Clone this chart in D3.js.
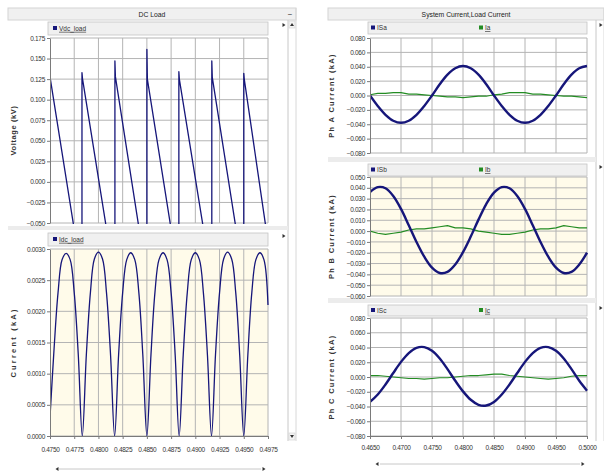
<!DOCTYPE html>
<html>
<head>
<meta charset="utf-8">
<script src="https://cdn.jsdelivr.net/npm/d3@7/dist/d3.min.js"></script>
<style>
	body { margin: 0; background: #fff; }
	svg { display: block; font-family: "Liberation Sans", Arial, sans-serif; }
	.axis text { font-size: 6.5px; fill: #333; letter-spacing: -0.3px; }
	.axis path, .axis line { stroke: #7a7a7a; }
</style>
</head>
<body>
<div id="chart"></div>
<script>
// ---- DC load (left) ----
var dcTicksX = [0.4750, 0.4775, 0.4800, 0.4825, 0.4850, 0.4875, 0.4900, 0.4925, 0.4950, 0.4975];
var vdcTicks = [-0.050, -0.025, 0.000, 0.025, 0.050, 0.075, 0.100, 0.125, 0.150, 0.175];
var idcTicks = [0.0000, 0.0005, 0.0010, 0.0015, 0.0020, 0.0025, 0.0030];

var vdcTime = [0.4750, 0.47505, 0.4783, 0.4783, 0.47835, 0.4817, 0.4817, 0.48175, 0.4850, 0.4850, 0.48505,
	0.4883, 0.4883, 0.48835, 0.4917, 0.4917, 0.49175, 0.4950, 0.4950, 0.49505, 0.4975];
var vdcLoad = [0.127, 0.124, -0.117, 0.133, 0.126, -0.121, 0.147, 0.128, -0.118, 0.161, 0.125,
	-0.117, 0.134, 0.125, -0.120, 0.147, 0.127, -0.117, 0.132, 0.125, -0.073];

var idcTime = [0.47500, 0.47542, 0.47583, 0.47625, 0.47667, 0.47708, 0.47750, 0.47792,
	0.47833, 0.47875, 0.47917, 0.47958, 0.48000, 0.48042, 0.48083, 0.48125,
	0.48167, 0.48208, 0.48250, 0.48292, 0.48333, 0.48375, 0.48417, 0.48458,
	0.48500, 0.48542, 0.48583, 0.48625, 0.48667, 0.48708, 0.48750, 0.48792,
	0.48833, 0.48875, 0.48917, 0.48958, 0.49000, 0.49042, 0.49083, 0.49125,
	0.49167, 0.49208, 0.49250, 0.49292, 0.49333, 0.49375, 0.49417, 0.49458,
	0.49500, 0.49542, 0.49583, 0.49625, 0.49667, 0.49708, 0.49750];
var idcLoad = [0.0003, 0.0014, 0.0023, 0.00283, 0.00293, 0.00283, 0.0023, 0.0013,
	0.0000, 0.0013, 0.0023, 0.00284, 0.00295, 0.00284, 0.0023, 0.0013,
	0.0000, 0.0013, 0.0023, 0.00283, 0.00294, 0.00283, 0.0023, 0.0013,
	0.0000, 0.0013, 0.0023, 0.00283, 0.00294, 0.00283, 0.0023, 0.0013,
	0.0000, 0.0013, 0.0023, 0.00283, 0.00294, 0.00283, 0.0023, 0.0013,
	0.0000, 0.0013, 0.0023, 0.00284, 0.00295, 0.00284, 0.0023, 0.0013,
	0.0000, 0.0013, 0.0023, 0.00283, 0.00294, 0.00283, 0.0021];

// ---- System current / load current (right) ----
var acTicksX = [0.4650, 0.4700, 0.4750, 0.4800, 0.4850, 0.4900, 0.4950, 0.5000];
var acTicks80 = [-0.080, -0.060, -0.040, -0.020, 0.000, 0.020, 0.040, 0.060, 0.080];
var acTicksB = [-0.060, -0.050, -0.040, -0.030, -0.020, -0.010, 0.000, 0.010, 0.020, 0.030, 0.040, 0.050];

var acTime = [0.46500, 0.46625, 0.46750, 0.46875, 0.47000, 0.47125, 0.47250, 0.47375, 0.47500, 0.47625,
	0.47750, 0.47875, 0.48000, 0.48125, 0.48250, 0.48375, 0.48500, 0.48625, 0.48750, 0.48875,
	0.49000, 0.49125, 0.49250, 0.49375, 0.49500, 0.49625, 0.49750, 0.49875, 0.50000];
var isa = [0.000, -0.0146, -0.0269, -0.0351, -0.038, -0.0351, -0.0269, -0.0146, 0.000, 0.0157,
	0.0290, 0.0379, 0.041, 0.0379, 0.0290, 0.0157, 0.000, -0.0146, -0.0269, -0.0351,
	-0.038, -0.0351, -0.0269, -0.0146, 0.000, 0.0157, 0.0290, 0.0379, 0.041];
var ia = [0.001, 0.003, 0.003, 0.004, 0.004, 0.002, 0.002, 0.001, 0.000, -0.001,
	-0.002, -0.002, -0.003, -0.002, -0.001, -0.001, 0.001, 0.002, 0.004, 0.004,
	0.004, 0.002, 0.002, 0.001, 0.000, -0.001, -0.001, -0.002, -0.003];
var isb = [0.0360, 0.0406, 0.0396, 0.0325, 0.0205, 0.0054, -0.0101, -0.0237, -0.0338, -0.0387,
	-0.0377, -0.0309, -0.0195, -0.0051, 0.0106, 0.0250, 0.0355, 0.0406, 0.0396, 0.0325,
	0.0205, 0.0054, -0.0101, -0.0237, -0.0338, -0.0387, -0.0377, -0.0309, -0.0200];
var ib = [0.000, -0.002, -0.003, -0.002, -0.001, 0.001, 0.002, 0.002, 0.003, 0.004,
	0.005, 0.003, 0.003, 0.002, 0.000, -0.001, -0.002, -0.003, -0.003, -0.002,
	-0.001, 0.001, 0.002, 0.002, 0.003, 0.005, 0.004, 0.003, 0.003];
var isc = [-0.0338, -0.0237, -0.0101, 0.0054, 0.0205, 0.0325, 0.0396, 0.0406, 0.0355, 0.0250,
	0.0106, -0.0051, -0.0195, -0.0309, -0.0377, -0.0387, -0.0338, -0.0237, -0.0101, 0.0054,
	0.0205, 0.0325, 0.0396, 0.0406, 0.0355, 0.0250, 0.0106, -0.0051, -0.0185];
var ic = [0.002, 0.002, 0.001, 0.000, -0.001, -0.002, -0.002, -0.003, -0.002, -0.001,
	-0.001, 0.000, 0.001, 0.002, 0.002, 0.003, 0.004, 0.004, 0.002, 0.001,
	0.000, -0.001, -0.002, -0.003, -0.002, -0.001, 0.001, 0.002, 0.002];

var navy = "#16167a";
var green = "#238c23";
var cream = "#fffbea";

var svg = d3.select("#chart").append("svg")
	.attr("width", 604)
	.attr("height", 474);

var xLeft = d3.scaleLinear().domain([0.475, 0.4975]).range([50, 268]);
var xRight = d3.scaleLinear().domain([0.465, 0.5]).range([370, 587]);

var clipId = 0;

// small triangle used for the scroll arrows
var arrow = function(cx, cy, dir) {
	var p;
	if(dir == "up") p = [[cx-2, cy+1.5], [cx+2, cy+1.5], [cx, cy-1.5]];
	else if(dir == "down") p = [[cx-2, cy-1.5], [cx+2, cy-1.5], [cx, cy+1.5]];
	else if(dir == "left") p = [[cx+1.5, cy-2], [cx+1.5, cy+2], [cx-1.5, cy]];
	else p = [[cx-1.5, cy-2], [cx-1.5, cy+2], [cx+1.5, cy]];
	svg.append("path")
		.attr("d", "M" + p.join("L") + "Z")
		.attr("fill", "#333");
}

var panelFrame = function(x0, x1, title, sideX) {
	svg.append("rect")
		.attr("x", x0).attr("y", 8)
		.attr("width", x1-x0).attr("height", 12)
		.attr("fill", "#f0f0f0")
		.attr("stroke", "#d4d4d4");
	svg.append("text")
		.text(title)
		.attr("x", (x0+x1)/2).attr("y", 17)
		.attr("text-anchor", "middle")
		.style("font-size", "6.8px")
		.style("fill", "#222");
	svg.append("line")
		.attr("x1", sideX).attr("x2", sideX)
		.attr("y1", 20).attr("y2", 441)
		.attr("stroke", "#c8c8c8");
	svg.append("line")
		.attr("x1", x1).attr("x2", x1)
		.attr("y1", 8).attr("y2", 441)
		.attr("stroke", "#d8d8d8");
}

var plot = function(o) {
	var x = o.x;
	var y = d3.scaleLinear().domain(o.domain).range([o.bottom, o.top]);
	var xl = x.range()[0], xr = x.range()[1];

	svg.append("rect")
		.attr("x", xl).attr("y", o.top)
		.attr("width", xr-xl).attr("height", o.bottom-o.top)
		.attr("fill", o.bg);

	// legend strip
	svg.append("rect")
		.attr("x", xl-2).attr("y", o.legendY)
		.attr("width", xr-xl+2).attr("height", o.legendH)
		.attr("fill", "#f0f0f0")
		.attr("stroke", "#c4c4c4")
		.attr("stroke-width", 0.8);
	o.legend.forEach(function(l) {
		svg.append("rect")
			.attr("x", l.x).attr("y", o.legendY+o.legendH/2-2.5)
			.attr("width", 4).attr("height", 4)
			.attr("fill", l.color);
		svg.append("text")
			.text(l.name)
			.attr("x", l.x+6).attr("y", o.legendY+o.legendH/2+2.3)
			.style("font-size", "6.5px")
			.style("fill", "#333")
			.style("text-decoration", l.under ? "underline" : "none");
	});

	// grid
	svg.append("g").selectAll("line")
		.data(o.yTicks).join("line")
		.attr("x1", xl).attr("x2", xr)
		.attr("y1", function(d) { return y(d); })
		.attr("y2", function(d) { return y(d); })
		.attr("stroke", "#b4b4b4")
		.attr("stroke-width", 1);
	svg.append("g").selectAll("line")
		.data(o.xTicks.slice(1)).join("line")
		.attr("x1", function(d) { return x(d); })
		.attr("x2", function(d) { return x(d); })
		.attr("y1", o.top).attr("y2", o.bottom)
		.attr("stroke", "#b4b4b4")
		.attr("stroke-width", 1);

	clipId++;
	svg.append("clipPath")
		.attr("id", "clip" + clipId)
		.append("rect")
		.attr("x", xl).attr("y", o.top-1)
		.attr("width", xr-xl+1).attr("height", o.bottom-o.top+2);

	o.series.forEach(function(s) {
		var pts = s.t.map(function(t, i) { return [t, s.v[i]]; });
		var line = d3.line()
			.x(function(d) { return x(d[0]); })
			.y(function(d) { return y(d[1]); })
			.curve(s.curve || d3.curveLinear);
		svg.append("path")
			.datum(pts)
			.attr("d", line)
			.attr("clip-path", "url(#clip" + clipId + ")")
			.attr("fill", "none")
			.attr("stroke", s.color)
			.attr("stroke-width", s.width)
			.attr("stroke-linejoin", "round");
	});

	svg.append("g")
		.attr("class", "axis")
		.attr("transform", "translate(" + xl + ",0)")
		.call(d3.axisLeft(y).tickValues(o.yTicks).tickFormat(d3.format(o.fmt)).tickSize(3).tickSizeOuter(0).tickPadding(2));

	if(o.xAxis) {
		svg.append("g")
			.attr("class", "axis")
			.attr("transform", "translate(0," + o.bottom + ")")
			.call(d3.axisBottom(x).tickValues(o.xTicks).tickFormat(d3.format(".4f")).tickSize(3).tickSizeOuter(0).tickPadding(o.xPad));
	}

	svg.append("text")
		.text(o.label)
		.attr("transform", "translate(" + o.labelX + "," + (o.top+o.bottom)/2 + ") rotate(-90)")
		.attr("text-anchor", "middle")
		.style("font-size", "7.5px")
		.style("font-weight", "bold")
		.style("letter-spacing", o.spacing)
		.style("fill", "#333");

	arrow(o.arrowX, o.legendY+3, "right");
}

// ---- left panel ----
panelFrame(8, 296, "DC Load", 288);
svg.append("text").text("\u2212").attr("x", 290).attr("y", 17).style("font-size", "8px").style("fill", "#333").attr("text-anchor", "middle");
svg.append("rect").attr("x", 8).attr("y", 226).attr("width", 280).attr("height", 4).attr("fill", "#ececec");

plot({
	x: xLeft, domain: [-0.05, 0.175], top: 38, bottom: 223,
	yTicks: vdcTicks, xTicks: dcTicksX, fmt: ".3f", bg: "#fff",
	legendY: 22, legendH: 13, arrowX: 284,
	legend: [{name: "Vdc_load", color: navy, x: 53, under: true}],
	series: [{t: vdcTime, v: vdcLoad, color: navy, width: 1.3}],
	label: "Voltage (kV)", labelX: 16, spacing: "0.6px"
});
plot({
	x: xLeft, domain: [0, 0.003], top: 249, bottom: 436,
	yTicks: idcTicks, xTicks: dcTicksX, fmt: ".4f", bg: cream,
	legendY: 233, legendH: 13, arrowX: 284,
	legend: [{name: "Idc_load", color: navy, x: 53, under: true}],
	series: [{t: idcTime, v: idcLoad, color: navy, width: 1.3, curve: d3.curveCatmullRom}],
	label: "Current (kA)", labelX: 16, spacing: "2.2px",
	xAxis: true, xPad: 8
});

// vertical scroll column of the left panel
svg.append("rect").attr("x", 289).attr("y", 21).attr("width", 6).attr("height", 7).attr("fill", "#f4f4f4").attr("stroke", "#cfcfcf").attr("stroke-width", 0.6);
arrow(292, 24.5, "up");
svg.append("rect").attr("x", 289).attr("y", 433).attr("width", 6).attr("height", 7).attr("fill", "#f4f4f4").attr("stroke", "#cfcfcf").attr("stroke-width", 0.6);
arrow(292, 436.5, "down");
// horizontal scroll bar
svg.append("line").attr("x1", 59).attr("x2", 261).attr("y1", 469).attr("y2", 469).attr("stroke", "#c8c8c8");
arrow(57, 469, "left");
arrow(264, 469, "right");

// ---- right panel ----
panelFrame(328, 604, "System Current,Load Current", 596);
svg.append("rect").attr("x", 328).attr("y", 157).attr("width", 268).attr("height", 5).attr("fill", "#ececec");
svg.append("rect").attr("x", 328).attr("y", 298).attr("width", 268).attr("height", 5).attr("fill", "#ececec");

plot({
	x: xRight, domain: [-0.08, 0.08], top: 38, bottom: 153,
	yTicks: acTicks80, xTicks: acTicksX, fmt: ".3f", bg: "#fff",
	legendY: 22, legendH: 12, arrowX: 601,
	legend: [{name: "ISa", color: navy, x: 371, under: false}, {name: "Ia", color: green, x: 479, under: true}],
	series: [{t: acTime, v: ia, color: green, width: 1.2},
		{t: acTime, v: isa, color: navy, width: 2.4, curve: d3.curveCatmullRom}],
	label: "Ph A Current (kA)", labelX: 334, spacing: "1.3px"
});
plot({
	x: xRight, domain: [-0.06, 0.05], top: 177, bottom: 296,
	yTicks: acTicksB, xTicks: acTicksX, fmt: ".3f", bg: cream,
	legendY: 164, legendH: 12, arrowX: 601,
	legend: [{name: "ISb", color: navy, x: 371, under: false}, {name: "Ib", color: green, x: 479, under: true}],
	series: [{t: acTime, v: ib, color: green, width: 1.2},
		{t: acTime, v: isb, color: navy, width: 2.4, curve: d3.curveCatmullRom}],
	label: "Ph B Current (kA)", labelX: 334, spacing: "1.3px"
});
plot({
	x: xRight, domain: [-0.08, 0.08], top: 318, bottom: 436,
	yTicks: acTicks80, xTicks: acTicksX, fmt: ".3f", bg: "#fff",
	legendY: 305, legendH: 11, arrowX: 601,
	legend: [{name: "ISc", color: navy, x: 371, under: false}, {name: "Ic", color: green, x: 479, under: true}],
	series: [{t: acTime, v: ic, color: green, width: 1.2},
		{t: acTime, v: isc, color: navy, width: 2.4, curve: d3.curveCatmullRom}],
	label: "Ph C Current (kA)", labelX: 334, spacing: "1.3px",
	xAxis: true, xPad: 6
});

svg.append("line").attr("x1", 380).attr("x2", 580).attr("y1", 464).attr("y2", 464).attr("stroke", "#c8c8c8");
arrow(377, 464, "left");
arrow(583, 464, "right");
</script>
</body>
</html>
